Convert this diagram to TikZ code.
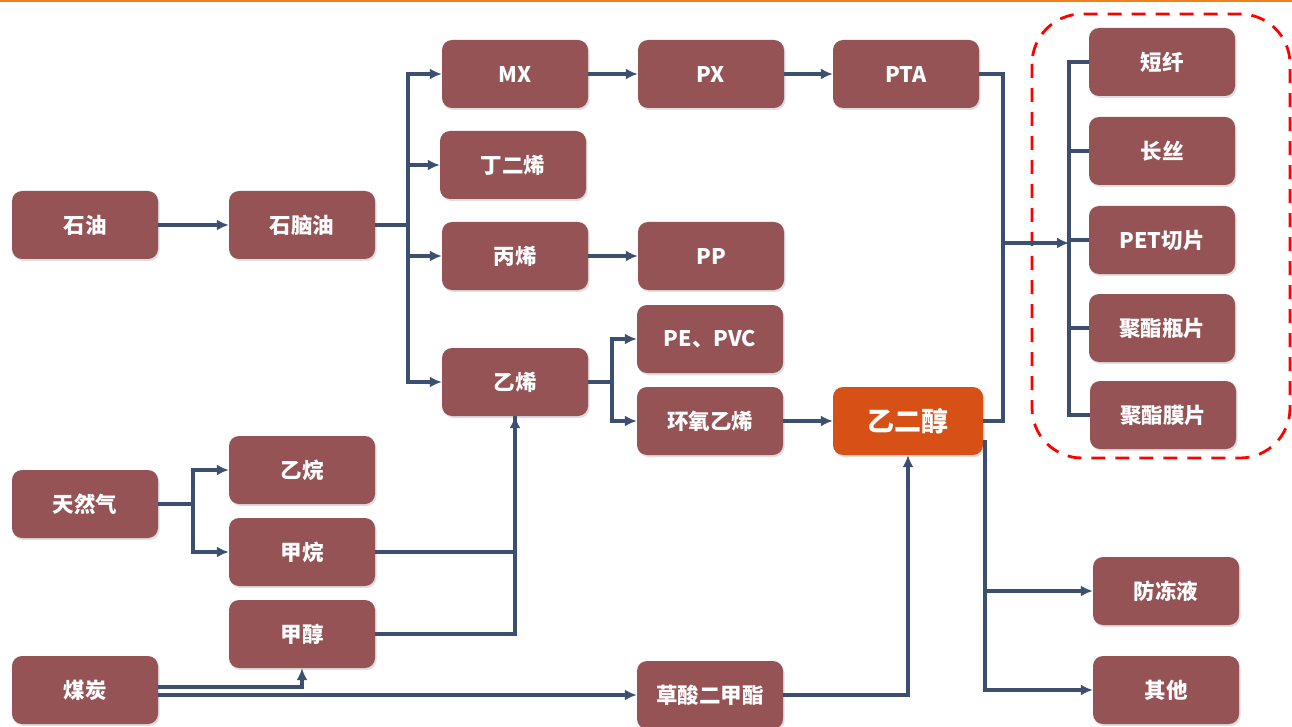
\documentclass[tikz,border=0pt]{standalone}
\usepackage{fontspec}
\newfontfamily\cjk{Noto Sans CJK SC}
\usetikzlibrary{arrows.meta,shadows,calc}
\definecolor{boxc}{HTML}{955356}
\definecolor{egc}{HTML}{D75016}
\definecolor{linec}{HTML}{3D4F6E}
\definecolor{topc}{HTML}{F07F1E}
\tikzset{
  box/.style={draw=none, fill=boxc, rounded corners=10pt, minimum width=146pt, minimum height=68pt,
    inner sep=0pt, text=white, font=\cjk\bfseries\fontsize{21.5}{25}\selectfont,
    drop shadow={opacity=0.25, shadow xshift=1.5pt, shadow yshift=-2pt}},
  egbox/.style={box, fill=egc, minimum width=150pt, font=\cjk\bfseries\fontsize{27}{31}\selectfont},
  conn/.style={draw=linec, line width=3.2pt},
  arr/.style={conn, -{Latex[length=12pt,width=11pt]}},
  dashbox/.style={draw=red, line width=2.8pt, dash pattern=on 14pt off 10pt, rounded corners=50pt},
}
\begin{document}
\begin{tikzpicture}[x=1pt,y=-1pt]
\useasboundingbox (0,0) rectangle (1292,727);
\fill[white] (0,0) rectangle (1292,727);
\draw[topc, line width=2.5pt] (0,1) -- (1292,1);
% dashed group
\draw[dashbox] (1032,14) rectangle (1290,458);
% nodes
\node[box] (shiyou) at (85,225) {石油};
\node[box] (naph) at (302,225) {石脑油};
\node[box] (mx) at (515,74) {MX};
\node[box] (bd) at (513,165) {丁二烯};
\node[box] (pro) at (515,256) {丙烯};
\node[box] (eth) at (515,382) {乙烯};
\node[box] (px) at (711,74) {PX};
\node[box] (pta) at (906,74) {PTA};
\node[box] (pp) at (711,256) {PP};
\node[box] (pe) at (710,339) {PE、PVC};
\node[box] (eo) at (710,421) {环氧乙烯};
\node[egbox] (eg) at (908,421) {乙二醇};
\node[box] (ng) at (85,504) {天然气};
\node[box] (ethane) at (302,470) {乙烷};
\node[box] (methane) at (302,552) {甲烷};
\node[box] (methanol) at (302,634) {甲醇};
\node[box] (coal) at (85,690) {煤炭};
\node[box] (dmo) at (710,695) {草酸二甲酯};
\node[box] (dx) at (1162,62) {短纤};
\node[box] (cs) at (1162,151) {长丝};
\node[box] (pet) at (1162,240) {PET切片};
\node[box] (pb) at (1162,328) {聚酯瓶片};
\node[box] (pf) at (1163,415) {聚酯膜片};
\node[box] (af) at (1166,591) {防冻液};
\node[box] (ot) at (1166,690) {其他};
% helper coordinates
\coordinate (t1) at (408,225);
\coordinate (t2) at (612,382);
\coordinate (t3) at (1003,243);
\coordinate (t4) at (1069,243);
\coordinate (t5) at (985,440);
\coordinate (t6) at (193,504);
% connectors
\draw[arr] (shiyou) -- (naph);
\draw[conn] (naph.east) -- (t1);
\draw[arr] (t1) |- (mx.west);
\draw[arr] (t1) |- (bd.west);
\draw[arr] (t1) |- (pro.west);
\draw[arr] (t1) |- (eth.west);
\draw[arr] (mx) -- (px);
\draw[arr] (px) -- (pta);
\draw[arr] (pro) -- (pp);
\draw[conn] (eth.east) -- (t2);
\draw[arr] (t2) |- (pe.west);
\draw[arr] (t2) |- (eo.west);
\draw[arr] (eo) -- (eg);
\draw[conn] (pta.east) -| (t3) |- (eg.east);
\draw[arr] (t3) -- (t4);
\draw[conn] (dx.west) -| (t4) |- (pf.west);
\draw[conn] (cs.west) -- (cs.west -| t4);
\draw[conn] (pet.west) -- (pet.west -| t4);
\draw[conn] (pb.west) -- (pb.west -| t4);
\draw[arr] (t5) |- (af.west);
\draw[arr] (t5) |- (ot.west);
\draw[conn] (ng.east) -- (t6);
\draw[arr] (t6) |- (ethane.west);
\draw[arr] (t6) |- (methane.west);
\draw[conn] (methanol.east) -| (eth.south);
\draw[arr] (methane.east) -| (eth.south);
\draw[arr] ([yshift=3pt]coal.east) -| (methanol.south);
\draw[arr] (coal.east |- dmo.west) -- (dmo.west);
\draw[arr] (dmo.east) -| (eg.south);
\end{tikzpicture}
\end{document}
